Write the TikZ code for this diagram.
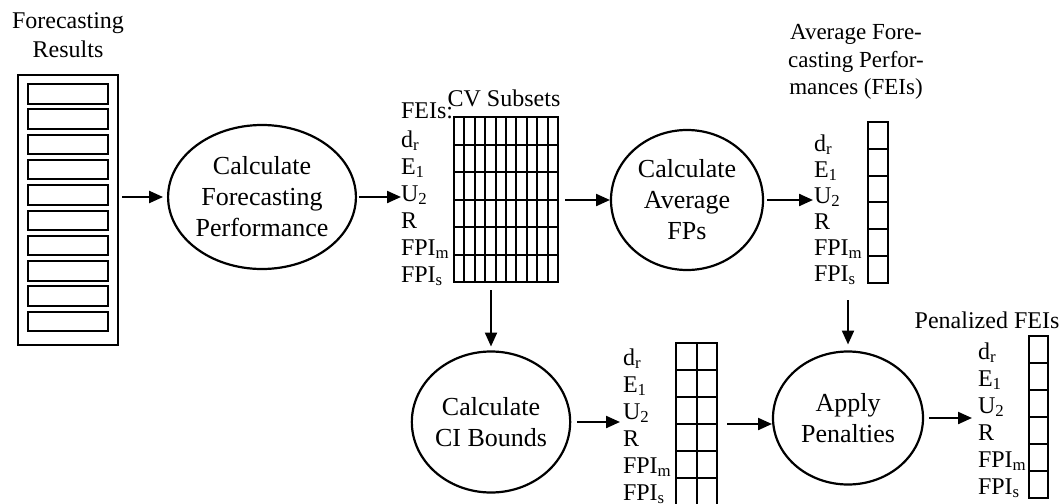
\documentclass[tikz,border=0pt]{standalone}
\usepackage{fontspec}
\setmainfont{Liberation Serif}
\usetikzlibrary{arrows.meta,shapes.geometric,calc}
\begin{document}
\begin{tikzpicture}[x=1pt,y=-1pt,
  every node/.style={inner sep=0pt, outer sep=0pt},
  lab/.style={anchor=base west, font=\fontsize{24}{27}\selectfont},
  ttl/.style={align=center, font=\fontsize{24}{29}\selectfont},
  proc/.style={draw, ellipse, line width=2.2pt, align=center, font=\fontsize{26}{31}\selectfont},
  arr/.style={-{Triangle[length=14pt,width=12pt]}, line width=2.2pt},
  frame/.style={draw, line width=2.2pt},
  cell/.style={line width=2pt}]
\useasboundingbox (0,0) rectangle (1062,503);

% Forecasting results
\node[ttl] (frt) at (68,35) {Forecasting\\Results};
\node[frame, minimum width=100pt, minimum height=270pt] (fr) at (68,210) {};
\foreach \i in {0,...,9}
  \node[draw, line width=2pt, minimum width=80pt, minimum height=19.5pt] (fr\i) at (68,{93.75+25.3*\i}) {};

% processes
\node[proc, minimum width=180pt, minimum height=144pt] (c1) at (262,197) {Calculate\\Forecasting\\Performance};
\node[proc, minimum width=152pt, minimum height=140pt] (c2) at (687,200) {Calculate\\Average\\FPs};
\node[proc, minimum width=152pt, minimum height=141pt] (c3) at (491,422) {Calculate\\CI Bounds};
\node[proc, minimum width=150pt, minimum height=133pt] (c4) at (848,418) {Apply\\Penalties};

% CV subsets grid
\node[frame, minimum width=104pt, minimum height=165pt] (grid) at (506,199.5) {};
\foreach \i in {1,...,9}
  \draw[cell] ($(grid.north west)+(\i*10.4,0)$) -- ($(grid.south west)+(\i*10.4,0)$);
\foreach \j in {1,...,5}
  \draw[cell] ($(grid.north west)+(0,\j*27.5)$) -- ($(grid.north east)+(0,\j*27.5)$);
\node[lab, anchor=base] (cvt) at (504,106) {CV Subsets};
\node[lab] (g0) at (401,118) {FEIs:};
\foreach \t [count=\i] in {d\textsubscript{r},E\textsubscript{1},U\textsubscript{2},R,FPI\textsubscript{m},FPI\textsubscript{s}}
  \node[lab] (g\i) at (401,{147+27*(\i-1)}) {\t};

% average column
\node[ttl, font=\fontsize{23}{27.5}\selectfont] (avt) at (856,62) {Average Fore-\\casting Perfor-\\mances (FEIs)};
\node[frame, minimum width=20pt, minimum height=161pt] (avg) at (878,202.5) {};
\foreach \j in {1,...,5}
  \draw[cell] ($(avg.north west)+(0,\j*26.83)$) -- ($(avg.north east)+(0,\j*26.83)$);
\foreach \t [count=\i] in {d\textsubscript{r},E\textsubscript{1},U\textsubscript{2},R,FPI\textsubscript{m},FPI\textsubscript{s}}
  \node[lab] (a\i) at (814,{151+26*(\i-1)}) {\t};

% CI column
\node[frame, minimum width=41pt, minimum height=162pt] (ci) at (696.5,424) {};
\draw[cell] (ci.north) -- (ci.south);
\foreach \j in {1,...,5}
  \draw[cell] ($(ci.north west)+(0,\j*27)$) -- ($(ci.north east)+(0,\j*27)$);
\foreach \t [count=\i] in {d\textsubscript{r},E\textsubscript{1},U\textsubscript{2},R,FPI\textsubscript{m},FPI\textsubscript{s}}
  \node[lab] (b\i) at (623,{365+27*(\i-1)}) {\t};

% penalized column
\node[lab, anchor=base] (pnt) at (987,328) {Penalized FEIs};
\node[frame, minimum width=19pt, minimum height=162pt] (pen) at (1038.5,417) {};
\foreach \j in {1,...,5}
  \draw[cell] ($(pen.north west)+(0,\j*27)$) -- ($(pen.north east)+(0,\j*27)$);
\foreach \t [count=\i] in {d\textsubscript{r},E\textsubscript{1},U\textsubscript{2},R,FPI\textsubscript{m},FPI\textsubscript{s}}
  \node[lab] (p\i) at (978,{359+27*(\i-1)}) {\t};

% connectors
\draw[arr, shorten <=4pt, shorten >=5pt] (fr.east |- c1.west) -- (c1.west);
\draw[arr, shorten <=3pt] (c1.east) -- (c1.east -| g3.west);
\draw[arr, shorten <=7pt, shorten >=1pt] (grid.east |- c2.west) -- (c2.west);
\draw[arr, shorten <=4pt, shorten >=1pt] (c2.east) -- (c2.east -| a3.west);
\draw[arr, shorten <=8pt, shorten >=5pt] (c3.north |- grid.south) -- (c3.north);
\draw[arr, shorten <=17pt, shorten >=7pt] (c4.north |- avg.south) -- (c4.north);
\draw[arr, shorten <=7pt, shorten >=3pt] (c3.east) -- (c3.east -| b4.west);
\draw[arr, shorten <=10pt, shorten >=1pt] (ci.east) -- (ci.east -| c4.west);
\draw[arr, shorten <=6pt, shorten >=6pt] (c4.east) -- (c4.east -| p4.west);
\end{tikzpicture}
\end{document}
